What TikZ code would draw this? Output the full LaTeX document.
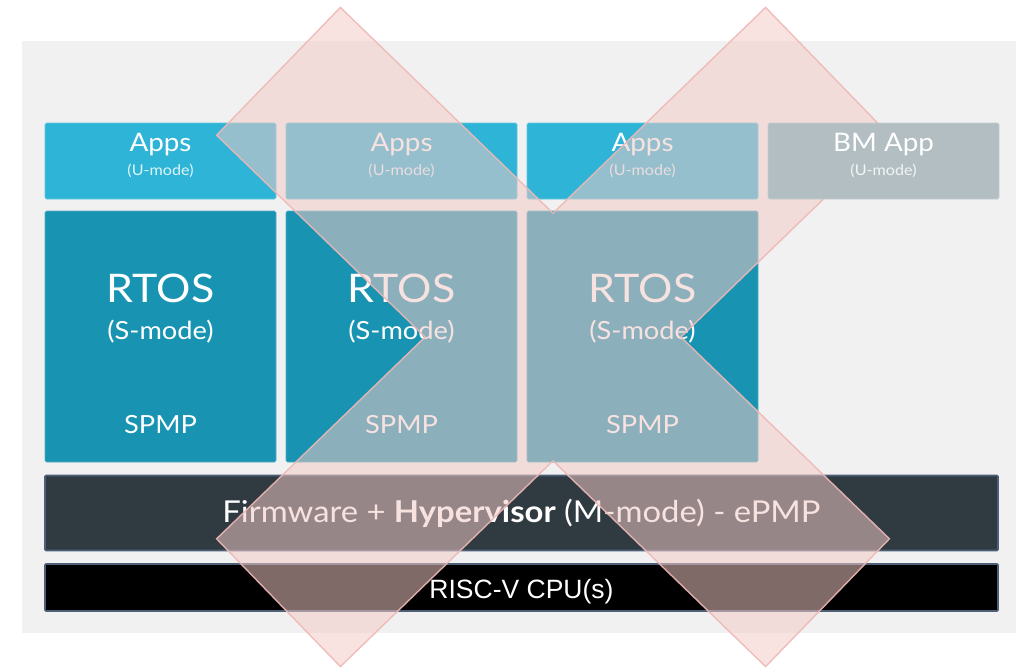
\documentclass[tikz,border=0pt]{standalone}
\usepackage{fontspec}
\setmainfont{Lato}[FakeStretch=1.09]
\newfontfamily\cpufont{Liberation Sans}
\usetikzlibrary{positioning,calc}

\definecolor{bggray}{HTML}{F1F1F1}
\definecolor{appblue}{HTML}{2EB4D6}
\definecolor{rtosblue}{HTML}{1893B2}
\definecolor{bmgray}{HTML}{B2BEC2}
\definecolor{fwslate}{HTML}{303B41}
\definecolor{baredge}{HTML}{4E5F78}
\definecolor{xpink}{RGB}{242,202,198}
\definecolor{xedge}{RGB}{238,184,182}

\begin{document}
\begin{tikzpicture}[x=1pt, y=-1pt,
      every node/.style={inner sep=0pt, outer sep=0pt, text=white},
      box/.style={rectangle, rounded corners=1.5pt, minimum width=231pt},
      appbox/.style={box, fill=appblue, draw=appblue!75!white, line width=0.6pt, minimum height=76pt},
      osbox/.style={box, fill=rtosblue, draw=rtosblue!75!white, line width=0.6pt, minimum height=251pt},
      bmbox/.style={box, fill=bmgray, draw=bmgray!75!white, line width=0.6pt, minimum height=76pt},
      bar/.style={rectangle, rounded corners=1pt, minimum width=953pt, draw=baredge, line width=1.6pt},
      bigtxt/.style={anchor=base, font=\fontsize{39.4}{46}\selectfont},
      midtxt/.style={anchor=base, font=\fontsize{25.5}{30}\selectfont},
      modetxt/.style={anchor=base, font=\fontsize{25}{30}\selectfont},
      smalltxt/.style={anchor=base, font=\fontsize{14.8}{17}\selectfont, text opacity=0.85},
      fwtxt/.style={anchor=base, font=\fontsize{30.1}{36}\selectfont},
      cputxt/.style={anchor=base, font=\cpufont\fontsize{26.5}{30}\selectfont},
      cross/.style={fill=xpink, fill opacity=0.53, draw=xedge, draw opacity=0.9, line width=1.4pt},
  ]
    \useasboundingbox (0,0) rectangle (1025,667);
    \fill[bggray] (22,41) rectangle (1016,633);

    % user level
    \node[appbox, anchor=north west] (app1) at (45,123) {};
    \node[appbox, right=10pt of app1] (app2) {};
    \node[appbox, right=10pt of app2] (app3) {};

    % supervisor level
    \node[osbox, below=12pt of app1] (os1) {};
    \node[osbox, below=12pt of app2] (os2) {};
    \node[osbox, below=12pt of app3] (os3) {};

    % machine level + cpu
    \node[bar, fill=fwslate, minimum height=75pt, anchor=north west] (fw) at (45,475.5) {};
    \node[bar, fill=black, minimum height=47pt, below=13.5pt of fw] (cpu) {};

    \node[midtxt]   at ($(app1.north)+(0,28.7)$) {Apps};
    \node[smalltxt] at ($(app1.north)+(0,52)$)   {(U-mode)};
    \node[midtxt]   at ($(app2.north)+(0,28.7)$) {Apps};
    \node[smalltxt] at ($(app2.north)+(0,52)$)   {(U-mode)};
    \node[midtxt]   at ($(app3.north)+(0,28.7)$) {Apps};
    \node[smalltxt] at ($(app3.north)+(0,52)$)   {(U-mode)};

    \node[bigtxt]  at ($(os1.north)+(0,91)$)    {RTOS};
    \node[modetxt] at ($(os1.north)+(0,128)$)   {(S-mode)};
    \node[modetxt] at ($(os1.north)+(0,222.5)$) {SPMP};
    \node[bigtxt]  at ($(os2.north)+(0,91)$)    {RTOS};
    \node[modetxt] at ($(os2.north)+(0,128)$)   {(S-mode)};
    \node[modetxt] at ($(os2.north)+(0,222.5)$) {SPMP};
    \node[bigtxt]  at ($(os3.north)+(0,91)$)    {RTOS};
    \node[modetxt] at ($(os3.north)+(0,128)$)   {(S-mode)};
    \node[modetxt] at ($(os3.north)+(0,222.5)$) {SPMP};

    \node[fwtxt] at ($(fw.north)+(0,47)$)
      {Firmware + \textbf{Hypervisor} (M-mode) - ePMP};
    \node[cputxt] at ($(cpu.north)+(0,34)$) {RISC-V CPU(s)};

    % the big cross over the hypervisor stack
    \path[cross] (340.4,7.4) -- (553,213.2) -- (765.6,7.4) -- (889.4,135.2)
      -- (680.9,337) -- (889.4,538.8) -- (765.6,666.6) -- (553,460.8)
      -- (340.4,666.6) -- (216.6,538.8) -- (425.1,337) -- (216.6,135.2) -- cycle;

    % bare-metal app sits on top
    \node[bmbox, right=10pt of app3] (bm) {};
    \node[midtxt]   at ($(bm.north)+(0,28.7)$) {BM App};
    \node[smalltxt] at ($(bm.north)+(0,52)$)   {(U-mode)};
  \end{tikzpicture}
\end{document}
